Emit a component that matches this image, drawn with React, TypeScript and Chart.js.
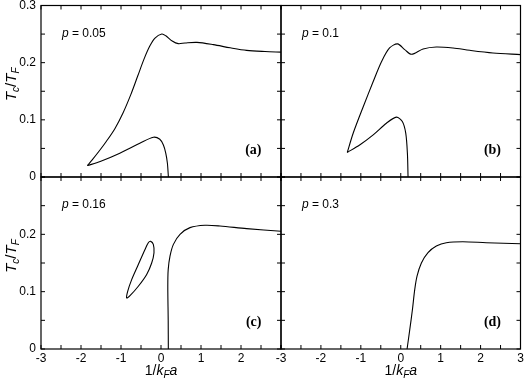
import React, { useEffect, useRef } from "react";
import { Chart, registerables } from "chart.js";

Chart.register(...registerables);

// ---- tick values ----
const X_MAJOR = [-3, -2, -1, 0, 1, 2, 3];
const X_MINOR = [-2.5, -1.5, -0.5, 0.5, 1.5, 2.5];
const Y_MAJOR = [0, 0.1, 0.2, 0.3];
const Y_MINOR = [0.05, 0.15, 0.25];

const P_VALUES = ["0.05", "0.1", "0.16", "0.3"];
const PANEL_LETTERS = ["(a)", "(b)", "(c)", "(d)"];

// ---- panel (a), p = 0.05 ----
const A_UP_X = [-1.84, -1.72, -1.55, -1.36, -1.15, -0.95, -0.75, -0.58, -0.42, -0.28, -0.15, 0.02, 0.12, 0.28, 0.43, 0.6, 0.9, 1.31, 1.73, 2.14, 2.6, 3.0];
const A_UP_Y = [0.02, 0.03, 0.045, 0.063, 0.085, 0.112, 0.145, 0.177, 0.207, 0.229, 0.243, 0.25, 0.247, 0.238, 0.2333, 0.2345, 0.2355, 0.2315, 0.226, 0.2215, 0.2195, 0.2185];
const A_LOW_X = [-1.84, -1.52, -1.03, -0.53, -0.19, -0.03, 0.06, 0.12, 0.16, 0.185];
const A_LOW_Y = [0.02, 0.027, 0.0415, 0.059, 0.0696, 0.066, 0.056, 0.0415, 0.024, 0];

// ---- panel (b), p = 0.1 ----
const B_UP_X = [-1.34, -1.19, -0.94, -0.69, -0.48, -0.28, -0.08, 0.1, 0.27, 0.56, 0.89, 1.31, 1.73, 2.31, 3.0];
const B_UP_Y = [0.043, 0.077, 0.123, 0.167, 0.202, 0.2257, 0.2328, 0.2228, 0.2146, 0.224, 0.2275, 0.2257, 0.2216, 0.217, 0.214];
const B_LOW_X = [-1.34, -1.03, -0.69, -0.36, -0.11, 0.04, 0.125, 0.167, 0.183];
const B_LOW_Y = [0.043, 0.056, 0.0737, 0.094, 0.1047, 0.097, 0.0766, 0.041, 0];

// ---- panel (c), p = 0.16 ----
const C_LOOP_X = [-0.567, -0.4, -0.317, -0.258, -0.192, -0.175, -0.233, -0.358, -0.567, -0.775, -0.858, -0.833, -0.733, -0.567];
const C_LOOP_Y = [0.1474, 0.1737, 0.1854, 0.1877, 0.1825, 0.168, 0.15, 0.13, 0.1094, 0.093, 0.089, 0.1006, 0.121, 0.1474];
const C_MAIN_X = [0.183, 0.18, 0.17, 0.18, 0.225, 0.31, 0.475, 0.725, 1.1, 1.475, 2.14, 3.0];
const C_MAIN_Y = [0, 0.05, 0.109, 0.1385, 0.162, 0.1825, 0.2, 0.2117, 0.2158, 0.2146, 0.21, 0.2055];

// ---- panel (d), p = 0.3 ----
const D_MAIN_X = [0.158, 0.225, 0.292, 0.35, 0.408, 0.517, 0.683, 0.892, 1.142, 1.558, 2.142, 3.0];
const D_MAIN_Y = [0, 0.0333, 0.0684, 0.1035, 0.127, 0.15, 0.168, 0.1795, 0.1854, 0.1871, 0.1854, 0.1836];

const PANEL_CURVES = [
  [[A_UP_X, A_UP_Y], [A_LOW_X, A_LOW_Y]],
  [[B_UP_X, B_UP_Y], [B_LOW_X, B_LOW_Y]],
  [[C_LOOP_X, C_LOOP_Y], [C_MAIN_X, C_MAIN_Y]],
  [[D_MAIN_X, D_MAIN_Y]],
];

const W = 526;
const H = 383;
const SANS = "'Liberation Sans', Arial, sans-serif";
const SERIF = "'Liberation Serif', 'Times New Roman', serif";

// layout of the 4 panels (pixel frame edges)
const LEFT_X = 41;
const MID_X = 281;
const RIGHT_X = 520.5;
const TOP_Y = 5.5;
const MID_Y = 177;
const BOT_Y = 349;

type Run = { t: string; font: string; dy?: number };

function drawRuns(ctx: CanvasRenderingContext2D, runs: Run[], x: number, y: number, align: "left" | "center") {
  let total = 0;
  const widths = runs.map((r) => {
    ctx.font = r.font;
    const w = ctx.measureText(r.t).width;
    total += w;
    return w;
  });
  let cx = align === "center" ? x - total / 2 : x;
  ctx.textAlign = "left";
  ctx.textBaseline = "alphabetic";
  runs.forEach((r, i) => {
    ctx.font = r.font;
    ctx.fillText(r.t, cx, y + (r.dy || 0));
    cx += widths[i];
  });
}

function makePlugin(idx: number) {
  const isLeft = idx % 2 === 0;
  const isBottom = idx >= 2;
  return {
    id: "deco" + idx,
    afterDraw(chart: any) {
      const { ctx, chartArea: a } = chart;
      const xs = chart.scales.x;
      const ys = chart.scales.y;
      ctx.save();
      ctx.strokeStyle = "#000";
      ctx.fillStyle = "#000";
      ctx.lineWidth = 1.2;
      ctx.strokeRect(a.left, a.top, a.right - a.left, a.bottom - a.top);
      const tl = 4;
      ctx.lineWidth = 1;
      ctx.beginPath();
      [...X_MAJOR, ...X_MINOR].forEach((v) => {
        const px = xs.getPixelForValue(v);
        ctx.moveTo(px, a.bottom);
        ctx.lineTo(px, a.bottom - tl);
        ctx.moveTo(px, a.top);
        ctx.lineTo(px, a.top + tl);
      });
      [...Y_MAJOR, ...Y_MINOR].forEach((v) => {
        const py = ys.getPixelForValue(v);
        ctx.moveTo(a.left, py);
        ctx.lineTo(a.left + tl, py);
        ctx.moveTo(a.right, py);
        ctx.lineTo(a.right - tl, py);
      });
      ctx.stroke();

      // p label
      drawRuns(
        ctx,
        [
          { t: "p", font: `italic 12px ${SANS}` },
          { t: " = " + P_VALUES[idx], font: `12px ${SANS}` },
        ],
        a.left + 21,
        a.top + 31,
        "left"
      );
      // panel letter
      ctx.font = `bold 14px ${SERIF}`;
      ctx.textAlign = "right";
      ctx.textBaseline = "alphabetic";
      ctx.fillText(PANEL_LETTERS[idx], a.right - 19.5, a.bottom - 23);

      // y title
      if (isLeft) {
        ctx.save();
        const cy = (a.top + a.bottom) / 2 - 7;
        ctx.translate(15.5, cy);
        ctx.rotate(-Math.PI / 2);
        drawRuns(
          ctx,
          [
            { t: "T", font: `italic 15px ${SANS}` },
            { t: "c", font: `italic 10px ${SANS}`, dy: 3 },
            { t: "/", font: `15px ${SANS}` },
            { t: "T", font: `italic 15px ${SANS}` },
            { t: "F", font: `italic 10px ${SANS}`, dy: 3 },
          ],
          0,
          0,
          "center"
        );
        ctx.restore();
      }
      // x title
      if (isBottom) {
        drawRuns(
          ctx,
          [
            { t: "1/", font: `14px ${SANS}` },
            { t: "k", font: `italic 14px ${SANS}` },
            { t: "F", font: `italic 10px ${SANS}`, dy: 3 },
            { t: "a", font: `italic 14px ${SANS}` },
          ],
          xs.getPixelForValue(0),
          375,
          "center"
        );
      }
      ctx.restore();
    },
  };
}

function Panel({ idx }: { idx: number }) {
  const ref = useRef<HTMLCanvasElement | null>(null);
  useEffect(() => {
    const isLeft = idx % 2 === 0;
    const isBottom = idx >= 2;
    const top = isBottom ? MID_Y : TOP_Y;
    const bottom = isBottom ? BOT_Y : MID_Y;
    const left = isLeft ? LEFT_X : MID_X;
    const right = isLeft ? MID_X : RIGHT_X;

    const datasets = PANEL_CURVES[idx].map(([xsArr, ysArr]) => ({
      data: xsArr.map((x: number, i: number) => ({ x, y: ysArr[i] })),
      showLine: true,
      borderColor: "#000",
      borderWidth: 1.1,
      pointRadius: 0,
      tension: 0.3,
      fill: false,
    }));

    const chart = new Chart(ref.current as HTMLCanvasElement, {
      type: "scatter",
      data: { datasets },
      options: {
        animation: false,
        responsive: false,
        devicePixelRatio: 1,
        layout: { padding: { top, right: W - right, left: 0, bottom: 0 } },
        plugins: { legend: { display: false }, tooltip: { enabled: false } },
        events: [],
        scales: {
          x: {
            type: "linear",
            position: "bottom",
            min: -3,
            max: 3,
            grid: { display: false, drawTicks: false, tickLength: 0 },
            border: { display: false },
            ticks: {
              display: isBottom,
              stepSize: 1,
              autoSkip: false,
              maxRotation: 0,
              padding: 2,
              color: "#000",
              font: { family: SANS, size: 12 },
              callback: (v: any) => (isLeft && Math.abs(v - 3) < 1e-6 ? "" : String(Math.round(v))),
            },
            afterFit: (s: any) => {
              s.height = H - bottom;
              s.paddingLeft = 0;
              s.paddingRight = 0;
              s.paddingTop = 0;
              s.paddingBottom = 0;
            },
          },
          y: {
            type: "linear",
            position: "left",
            min: 0,
            max: 0.3,
            grid: { display: false, drawTicks: false, tickLength: 0 },
            border: { display: false },
            ticks: {
              display: isLeft,
              stepSize: 0.1,
              autoSkip: false,
              padding: 5,
              color: "#000",
              font: { family: SANS, size: 12 },
              callback: (v: any) => {
                if (isBottom && Math.abs(v - 0.3) < 1e-6) return "";
                return Math.abs(v) < 1e-9 ? "0" : Number(v).toFixed(1);
              },
            },
            afterFit: (s: any) => {
              s.width = left;
              s.paddingLeft = 0;
              s.paddingRight = 0;
              s.paddingTop = 0;
              s.paddingBottom = 0;
            },
          },
        },
      } as any,
      plugins: [makePlugin(idx)],
    });
    return () => chart.destroy();
  }, [idx]);
  return (
    <canvas
      ref={ref}
      width={W}
      height={H}
      style={{ position: "absolute", left: 0, top: 0, width: W, height: H, pointerEvents: "none" }}
    />
  );
}

export default function App() {
  return (
    <div style={{ position: "fixed", left: 0, top: 0, width: W, height: H, background: "#fff" }}>
      {[0, 1, 2, 3].map((i) => (
        <Panel key={i} idx={i} />
      ))}
    </div>
  );
}
